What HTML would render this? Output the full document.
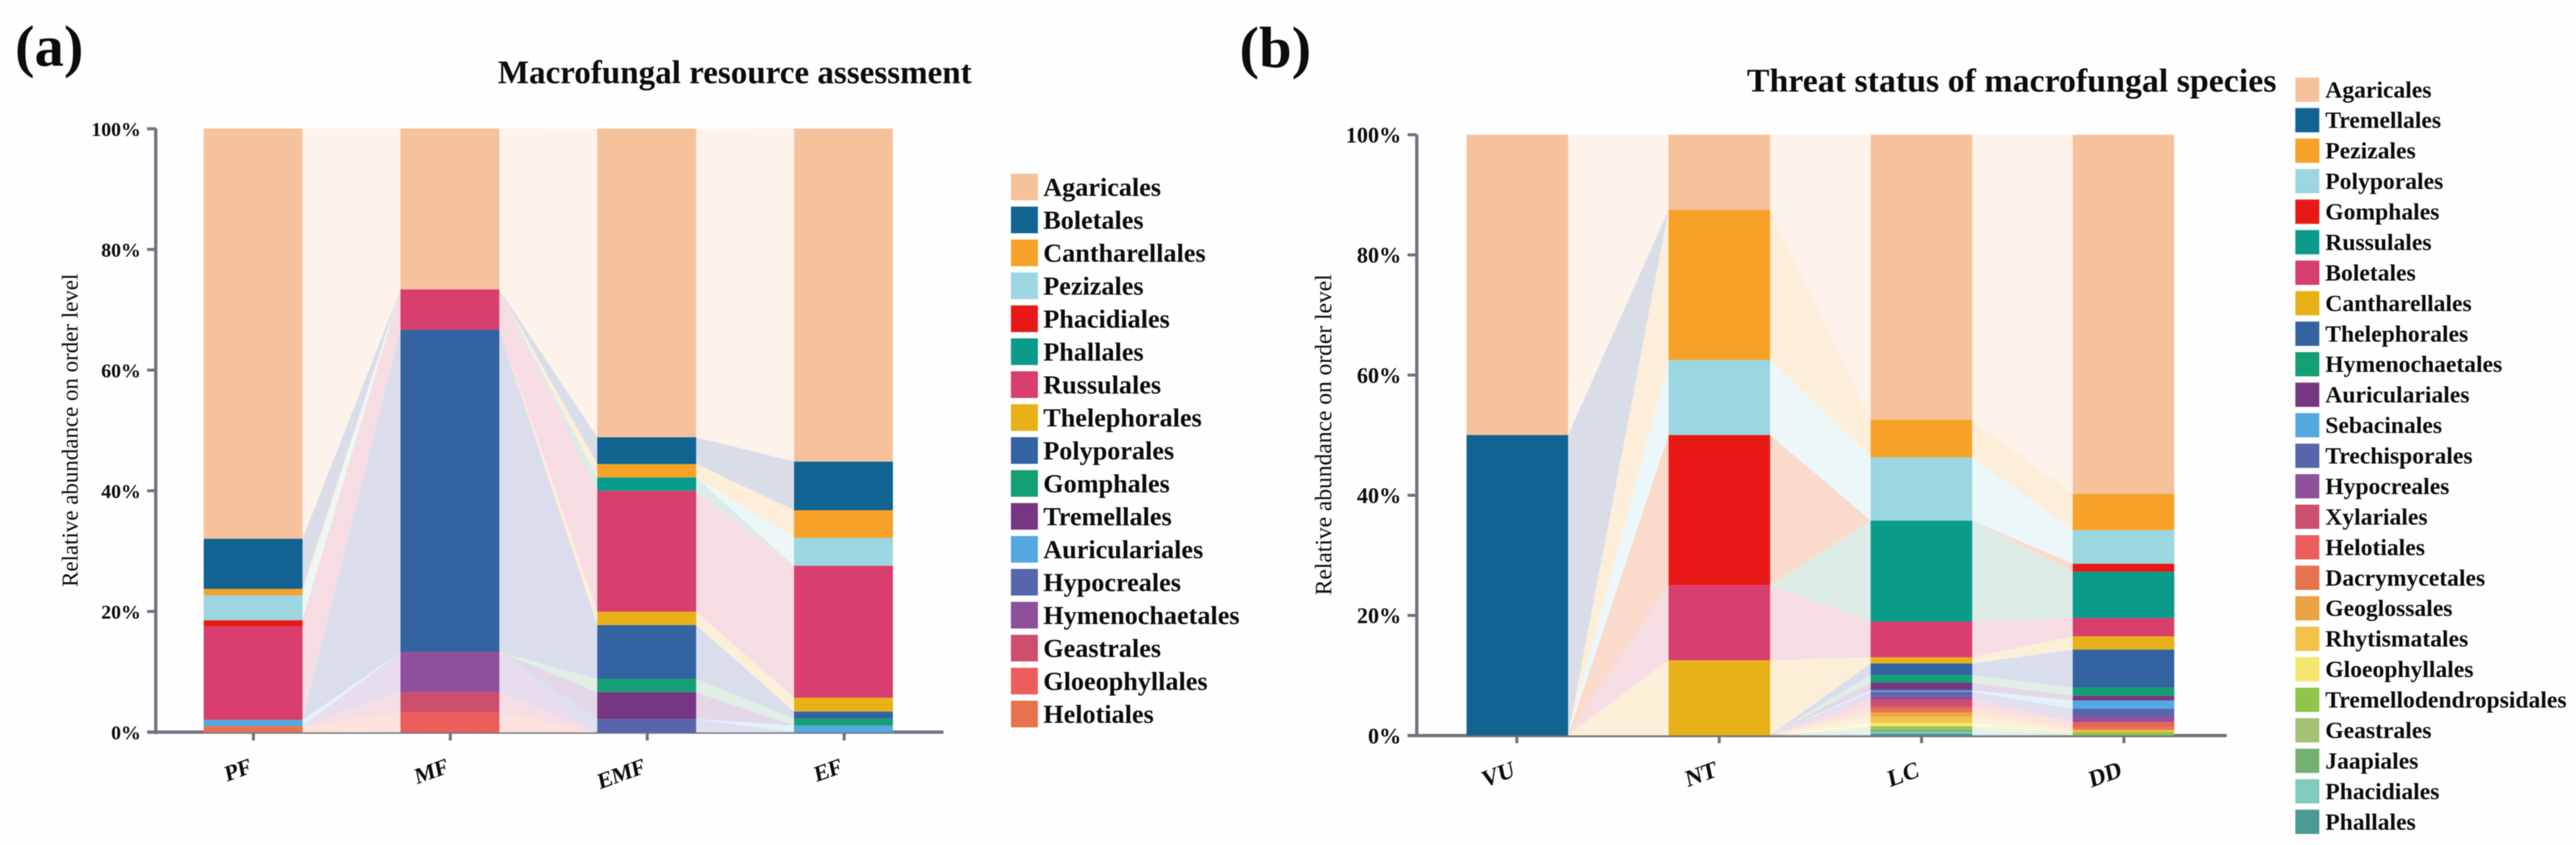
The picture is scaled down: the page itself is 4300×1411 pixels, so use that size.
<!DOCTYPE html>
<html lang="en">
<head>
<meta charset="utf-8">
<title>Macrofungal order composition</title>
<style>
html,body{margin:0;padding:0;background:#fefefe;}
svg{display:block;filter:blur(0.7px);}
text{font-family:"Liberation Serif","Times New Roman",serif;fill:#0c0c0c;}
.bold{font-weight:bold;}
</style>
</head>
<body>
<svg id="figure" xmlns="http://www.w3.org/2000/svg" width="4300" height="1411" viewBox="0 0 4300 1411">
  <rect x="0" y="0" width="4300" height="1411" fill="#fefefe"/>
  <text class="bold" x="25" y="110" font-size="98" fill="#231815">(a)</text>
  <text class="bold" x="2069" y="112" font-size="98" fill="#231815">(b)</text>
  <text class="bold" x="831" y="139" font-size="55" textLength="791" lengthAdjust="spacingAndGlyphs">Macrofungal resource assessment</text>
  <text class="bold" x="2916" y="153" font-size="55" textLength="884" lengthAdjust="spacingAndGlyphs">Threat status of macrofungal species</text>
  <text transform="translate(129.5 718.5) rotate(-90)" text-anchor="middle" font-size="38.3" textLength="523" lengthAdjust="spacingAndGlyphs">Relative abundance on order level</text>
  <text transform="translate(2222 726) rotate(-90)" text-anchor="middle" font-size="39.2" textLength="536" lengthAdjust="spacingAndGlyphs">Relative abundance on order level</text>
  <g id="panel-a"></g>
  <g id="panel-b"></g>
</svg>
<script>
// ---- Shared axis data ----
const tickValues = [0, 20, 40, 60, 80, 100];
const tickLabels = ['0%', '20%', '40%', '60%', '80%', '100%'];

// ---- Panel (a): categories, orders, and abundance per forest type ----
const categoriesA = ['PF', 'MF', 'EMF', 'EF'];
const ordersA = ['Agaricales', 'Boletales', 'Cantharellales', 'Pezizales', 'Phacidiales', 'Phallales', 'Russulales', 'Thelephorales', 'Polyporales', 'Gomphales', 'Tremellales', 'Auriculariales', 'Hypocreales', 'Hymenochaetales', 'Geastrales', 'Gloeophyllales', 'Helotiales'];
const valuesPF = [67.94, 8.3, 1.05, 4.15, 1, 0, 15.5, 0, 0, 0, 0, 1.03, 0, 0, 0, 0, 1.03];
const valuesMF = [26.67, 0, 0, 0, 0, 0, 6.67, 0, 53.33, 0, 0, 0, 0, 6.67, 3.33, 3.33, 0];
const valuesEMF = [51.11, 4.44, 2.22, 0, 0, 2.22, 20, 2.22, 8.89, 2.22, 4.44, 0, 2.22, 0, 0, 0, 0];
const valuesEF = [55.15, 8.05, 4.6, 4.6, 0, 0, 21.84, 2.3, 1.15, 1.15, 0, 1.15, 0, 0, 0, 0, 0];

// ---- Panel (b): categories, orders, and abundance per threat status ----
const categoriesB = ['VU', 'NT', 'LC', 'DD'];
const ordersB = ['Agaricales', 'Tremellales', 'Pezizales', 'Polyporales', 'Gomphales', 'Russulales', 'Boletales', 'Cantharellales', 'Thelephorales', 'Hymenochaetales', 'Auriculariales', 'Sebacinales', 'Trechisporales', 'Hypocreales', 'Xylariales', 'Helotiales', 'Dacrymycetales', 'Geoglossales', 'Rhytismatales', 'Gloeophyllales', 'Tremellodendropsidales', 'Geastrales', 'Jaapiales', 'Phacidiales', 'Phallales'];
const valuesVU = [50, 50, 0, 0, 0, 0, 0, 0, 0, 0, 0, 0, 0, 0, 0, 0, 0, 0, 0, 0, 0, 0, 0, 0, 0];
const valuesNT = [12.5, 0, 25, 12.5, 25, 0, 12.5, 12.5, 0, 0, 0, 0, 0, 0, 0, 0, 0, 0, 0, 0, 0, 0, 0, 0, 0];
const valuesLC = [47.45, 0, 6.25, 10.55, 0, 16.8, 5.97, 1, 1.95, 1.25, 1.25, 0.31, 0.62, 0.62, 1.27, 0.31, 0.58, 0.67, 1.06, 0.59, 0.3, 0.3, 0.3, 0.3, 0.3];
const valuesDD = [59.8, 0, 6.03, 5.6, 1.32, 7.72, 3.03, 2.22, 6.31, 1.37, 0.8, 1.35, 1.3, 0.9, 0, 0.82, 0.43, 0.2, 0.3, 0, 0.5, 0, 0, 0, 0];

// ---- Styles ----
const colorsA = ['#F6C29C', '#116392', '#F6A229', '#9CD6E0', '#E81816', '#0A9B8A', '#D83E6E', '#E8B117', '#3463A1', '#159F74', '#763782', '#53A9E0', '#5766AC', '#8E4F9B', '#CE4E70', '#EB5E5C', '#E6734D'];
const colorsB = ['#F6C29C', '#116392', '#F6A229', '#9CD6E0', '#E81816', '#0A9B8A', '#D83E6E', '#E8B117', '#3463A1', '#159F74', '#763782', '#53A9E0', '#5766AC', '#8E4F9B', '#CE4E70', '#EB5E5C', '#E6734D', '#EBA344', '#F0C24A', '#F5E66E', '#8FC54A', '#A3C273', '#73B071', '#80CBBB', '#4A9A95'];
const flowColorsA = ['#FDF3EA', '#D8DDE8', '#FDEEDA', '#ECF7FA', '#FADACB', '#DDEBE6', '#F6DDE3', '#FCEFD8', '#D9DDEC', '#E0EEE5', '#E4D7E8', '#E3F1FA', '#DEE0EF', '#E8DDEE', '#F6DDE3', '#FBE2DF', '#FCE3D8'];
const flowColorsB = ['#FDF3EA', '#D8DDE8', '#FDEEDA', '#ECF7FA', '#FADACB', '#DDEBE6', '#F6DDE3', '#FCEFD8', '#D9DDEC', '#E0EEE5', '#E4D7E8', '#E3F1FA', '#DEE0EF', '#E8DDEE', '#F6DDE3', '#FBE2DF', '#FCE3D8', '#FCEBD6', '#FCF0D8', '#FDF9DC', '#EAF4DC', '#EDF3E2', '#E2EFE2', '#E5F5F1', '#DBEBEA'];
const AXIS_COLOR = '#70737F';
const NS = 'http://www.w3.org/2000/svg';

function make(tag, attrs, parent) {
  const el = document.createElementNS(NS, tag);
  for (const k in attrs) el.setAttribute(k, attrs[k]);
  parent.appendChild(el);
  return el;
}

function drawChart(root, prefix, categories, orders, groups, colors, flowColors, L) {
  const yScale = v => L.y0 - (v / 100) * (L.y0 - L.y100);
  const barLeft = i => L.barStart + i * L.pitch;
  const barRight = i => barLeft(i) + L.barWidth;
  const tickX = i => L.tickStart + i * L.tickPitch;

  // y axis
  const yAxis = make('rect', {x: L.axisX - L.axisW / 2, y: yScale(100), width: L.axisW, height: yScale(0) - yScale(100) + L.axisW / 2, fill: AXIS_COLOR}, root);
  
  

  // x axis
  const xAxis = make('rect', {x: L.tickLeft, y: L.axisY - L.axisW / 2, width: L.axisEnd - L.tickLeft, height: L.axisW, rx: 1.5, fill: AXIS_COLOR}, root);
  
  

  tickValues.forEach((v, i) => {
    const t = make('rect', {x: L.tickLeft, y: L.tickY(v) - 2.5, width: L.axisX - L.tickLeft, height: 5, fill: AXIS_COLOR}, root);
    
    
    const lab = make('text', {x: L.tickLabelX, y: L.tickY(v) + L.tickLabelDy, 'text-anchor': 'end', 'font-size': L.tickFont, 'font-weight': 'bold'}, root);
    lab.textContent = tickLabels[i];
    
    
  });

  categories.forEach((c, i) => {
    const t = make('rect', {x: tickX(i) - 2.5, y: L.axisY, width: 5, height: L.xTickBottom - L.axisY, fill: AXIS_COLOR}, root);
    
    
    const lab = make('text', {transform: 'translate(' + (tickX(i) - 2) + ' ' + L.xLabelY + ') rotate(-20) skewX(-8)', 'text-anchor': 'end', 'font-size': L.xFont, 'font-weight': 'bold'}, root);
    lab.textContent = c;
    
    
  });

  // stack boundaries: last order in the list sits on the axis
  const stacks = groups.map(vals => {
    const tops = new Array(vals.length);
    const bots = new Array(vals.length);
    let cum = 0;
    for (let s = vals.length - 1; s >= 0; s--) {
      bots[s] = cum;
      cum += vals[s];
      tops[s] = cum;
    }
    return {tops, bots};
  });

  // connecting flows between neighbouring bars
  for (let i = 0; i < groups.length - 1; i++) {
    orders.forEach((name, s) => {
      const a = stacks[i], b = stacks[i + 1];
      if (groups[i][s] === 0 && groups[i + 1][s] === 0) return;
      const pts = [
        [barRight(i), yScale(a.tops[s])],
        [barLeft(i + 1), yScale(b.tops[s])],
        [barLeft(i + 1), yScale(b.bots[s])],
        [barRight(i), yScale(a.bots[s])]
      ].map(p => p.join(',')).join(' ');
      const flow = make('polygon', {points: pts, fill: flowColors[s]}, root);
      
      
    });
  }

  // bars
  groups.forEach((vals, i) => {
    orders.forEach((name, s) => {
      if (vals[s] === 0) return;
      const y1 = yScale(stacks[i].tops[s]);
      const y2 = yScale(stacks[i].bots[s]);
      const seg = make('rect', {x: barLeft(i), y: y1, width: L.barWidth, height: y2 - y1, fill: colors[s]}, root);
      
      
    });
  });

  // legend
  orders.forEach((name, s) => {
    const y = L.legendY + s * L.legendPitch;
    const sw = make('rect', {x: L.legendX, y: y, width: L.legendW, height: L.legendH, fill: colors[s]}, root);
    
    
    const tx = make('text', {x: L.legendTextX, y: y + L.legendH / 2 + L.legendDy, 'font-size': L.legendFont, 'font-weight': 'bold'}, root);
    tx.textContent = name;
    
    
  });
}

drawChart(document.getElementById('panel-a'), 'panel-a', categoriesA, ordersA, [valuesPF, valuesMF, valuesEMF, valuesEF], colorsA, flowColorsA, {
  y0: 1223, y100: 214.5,
  barStart: 340, pitch: 328.5, barWidth: 165,
  tickStart: 423, tickPitch: 328.7,
  axisX: 260, axisY: 1222.5, axisW: 5.5, axisEnd: 1575, tickLeft: 245.5,
  tickY: v => 1222.5 - v * 10.075,
  tickLabelX: 235, tickLabelDy: 12, tickFont: 33,
  xTickBottom: 1236.5, xLabelY: 1290, xFont: 37,
  legendX: 1687.5, legendY: 290, legendW: 45, legendH: 44.5, legendPitch: 55,
  legendTextX: 1741.5, legendDy: 14.5, legendFont: 43.7
});

drawChart(document.getElementById('panel-b'), 'panel-b', categoriesB, ordersB, [valuesVU, valuesNT, valuesLC, valuesDD], colorsB, flowColorsB, {
  y0: 1228, y100: 225,
  barStart: 2448, pitch: 337.3, barWidth: 169.5,
  tickStart: 2532, tickPitch: 337.8,
  axisX: 2365, axisY: 1228.3, axisW: 5.5, axisEnd: 3717, tickLeft: 2349.5,
  tickY: v => 1228.3 - v * 10.033,
  tickLabelX: 2339, tickLabelDy: 13, tickFont: 37,
  xTickBottom: 1241, xLabelY: 1296, xFont: 39,
  legendX: 3831.5, legendY: 129.5, legendW: 40, legendH: 40.5, legendPitch: 50.94,
  legendTextX: 3881.5, legendDy: 13, legendFont: 39.4
});
</script>
</body>
</html>
